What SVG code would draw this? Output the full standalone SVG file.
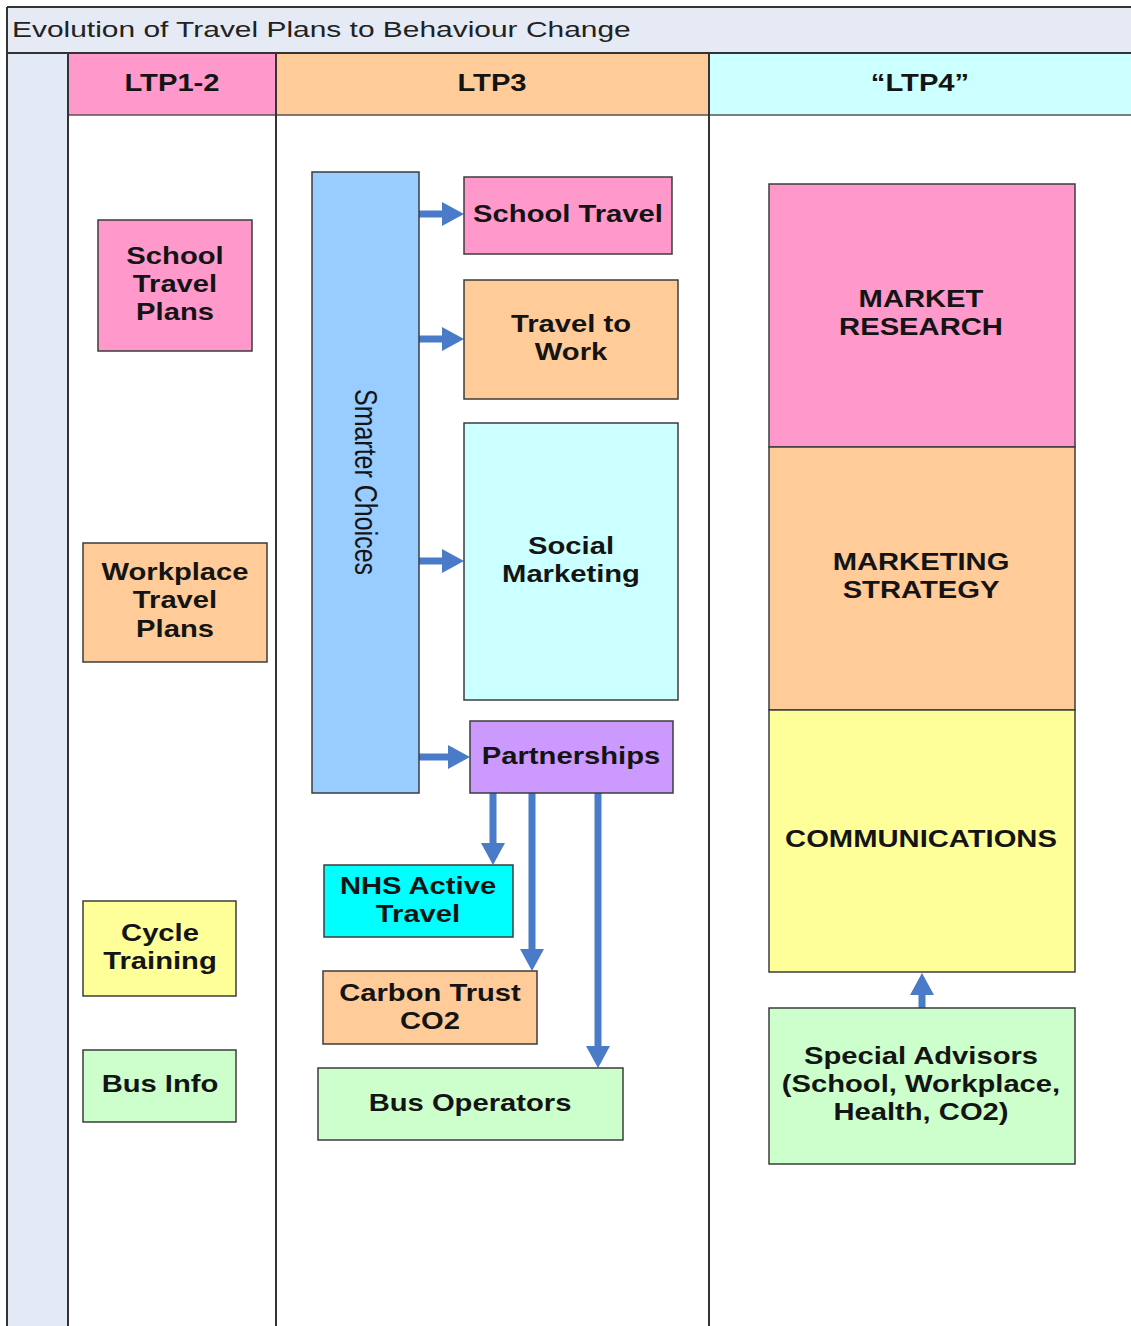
<svg xmlns="http://www.w3.org/2000/svg" width="1131" height="1326" viewBox="0 0 1131 1326">
<style>
.box{stroke:#3c3c3c;stroke-width:1.5}
.t{font-family:"Liberation Sans",Arial,sans-serif;font-weight:bold;font-size:23px;fill:#141414;text-anchor:middle}
.frame{stroke:#333;stroke-width:2;fill:none}
.pink{fill:#ff99cc}.orange{fill:#ffcc99}.lcyan{fill:#ccffff}.yellow{fill:#ffff99}.green{fill:#ccffcc}.blue{fill:#99ccff}.purple{fill:#cc99ff}.cyan{fill:#00ffff}
.arr{stroke:#4a7bc9;stroke-width:7;fill:none;stroke-linecap:round;marker-end:url(#head)}
</style>
<defs>
<marker id="head" markerUnits="userSpaceOnUse" viewBox="0 0 22 24" markerWidth="22" markerHeight="24" refX="1" refY="12" orient="auto">
<path d="M0,0 L22,12 L0,24 z" fill="#4a7bc9"/>
</marker>
</defs>
<rect width="1131" height="1326" fill="#ffffff"/>
<g id="frame">
<rect x="7" y="7" width="1130" height="46" fill="#e5eaf5"/>
<rect x="7" y="53" width="61" height="1280" fill="#e3e9f5"/>
<rect x="68" y="53" width="208" height="62" class="pink"/>
<rect x="276" y="53" width="433" height="62" class="orange"/>
<rect x="709" y="53" width="430" height="62" class="lcyan"/>
<line x1="7" y1="7" x2="1131" y2="7" class="frame"/>
<line x1="7" y1="53" x2="1131" y2="53" class="frame"/>
<line x1="68" y1="115" x2="1131" y2="115" stroke="#555" stroke-width="1.5"/>
<line x1="7" y1="7" x2="7" y2="1326" class="frame"/>
<line x1="68" y1="53" x2="68" y2="1326" class="frame"/>
<line x1="276" y1="53" x2="276" y2="1326" class="frame"/>
<line x1="709" y1="53" x2="709" y2="1326" class="frame"/>
<text transform="matrix(1.33,0,0,1,12,37)" x="0" y="0" style="font-family:'Liberation Sans',Arial,sans-serif;font-size:22.5px;fill:#222">Evolution of Travel Plans to Behaviour Change</text>
<text class="t" transform="matrix(1.27,0,0,1,172,91)">LTP1-2</text>
<text class="t" transform="matrix(1.27,0,0,1,492,91)">LTP3</text>
<text class="t" transform="matrix(1.27,0,0,1,920,91)">“LTP4”</text>
</g>
<g id="connectors">
<line class="arr" x1="418" y1="214" x2="443" y2="214"/>
<line class="arr" x1="418" y1="339" x2="443" y2="339"/>
<line class="arr" x1="418" y1="561" x2="443" y2="561"/>
<line class="arr" x1="418" y1="757" x2="449" y2="757"/>
<line class="arr" x1="493" y1="794" x2="493" y2="844"/>
<line class="arr" x1="532" y1="794" x2="532" y2="950"/>
<line class="arr" x1="598" y1="794" x2="598" y2="1047"/>
<line class="arr" x1="922" y1="1010" x2="922" y2="994"/>
</g>
<g id="school-travel-plans">
<rect x="98" y="220" width="154" height="131" class="box pink"/>
<text class="t" transform="matrix(1.27,0,0,1,175,0)"><tspan x="0" y="264">School</tspan><tspan x="0" y="292">Travel</tspan><tspan x="0" y="320">Plans</tspan></text>
</g>
<g id="workplace-travel-plans">
<rect x="83" y="543" width="184" height="119" class="box orange"/>
<text class="t" transform="matrix(1.27,0,0,1,175,0)"><tspan x="0" y="580">Workplace</tspan><tspan x="0" y="608">Travel</tspan><tspan x="0" y="637">Plans</tspan></text>
</g>
<g id="cycle-training">
<rect x="83" y="901" width="153" height="95" class="box yellow"/>
<text class="t" transform="matrix(1.27,0,0,1,160,0)"><tspan x="0" y="941">Cycle</tspan><tspan x="0" y="969">Training</tspan></text>
</g>
<g id="bus-info">
<rect x="83" y="1050" width="153" height="72" class="box green"/>
<text class="t" transform="matrix(1.27,0,0,1,160,1092)">Bus Info</text>
</g>
<g id="smarter-choices">
<rect x="312" y="172" width="107" height="621" class="box blue"/>
<text transform="translate(366,482) scale(1.27,1) rotate(90)" x="0" y="9" style="font-family:'Liberation Sans',Arial,sans-serif;font-size:25px;fill:#141414;text-anchor:middle">Smarter Choices</text>
</g>
<g id="school-travel">
<rect x="464" y="177" width="208" height="77" class="box pink"/>
<text class="t" transform="matrix(1.27,0,0,1,568,222)">School Travel</text>
</g>
<g id="travel-to-work">
<rect x="464" y="280" width="214" height="119" class="box orange"/>
<text class="t" transform="matrix(1.27,0,0,1,571,0)"><tspan x="0" y="332">Travel to</tspan><tspan x="0" y="360">Work</tspan></text>
</g>
<g id="social-marketing">
<rect x="464" y="423" width="214" height="277" class="box lcyan"/>
<text class="t" transform="matrix(1.27,0,0,1,571,0)"><tspan x="0" y="554">Social</tspan><tspan x="0" y="582">Marketing</tspan></text>
</g>
<g id="partnerships">
<rect x="470" y="721" width="203" height="72" class="box purple"/>
<text class="t" transform="matrix(1.27,0,0,1,571,764)">Partnerships</text>
</g>
<g id="nhs-active-travel">
<rect x="324" y="865" width="189" height="72" class="box cyan"/>
<text class="t" transform="matrix(1.27,0,0,1,418,0)"><tspan x="0" y="894">NHS Active</tspan><tspan x="0" y="922">Travel</tspan></text>
</g>
<g id="carbon-trust">
<rect x="323" y="971" width="214" height="73" class="box orange"/>
<text class="t" transform="matrix(1.27,0,0,1,430,0)"><tspan x="0" y="1001">Carbon Trust</tspan><tspan x="0" y="1029">CO2</tspan></text>
</g>
<g id="bus-operators">
<rect x="318" y="1068" width="305" height="72" class="box green"/>
<text class="t" transform="matrix(1.27,0,0,1,470,1111)">Bus Operators</text>
</g>
<g id="market-research">
<rect x="769" y="184" width="306" height="263" class="box pink"/>
<text class="t" transform="matrix(1.27,0,0,1,921,0)"><tspan x="0" y="307">MARKET</tspan><tspan x="0" y="335">RESEARCH</tspan></text>
</g>
<g id="marketing-strategy">
<rect x="769" y="447" width="306" height="263" class="box orange"/>
<text class="t" transform="matrix(1.27,0,0,1,921,0)"><tspan x="0" y="570">MARKETING</tspan><tspan x="0" y="598">STRATEGY</tspan></text>
</g>
<g id="communications">
<rect x="769" y="710" width="306" height="262" class="box yellow"/>
<text class="t" transform="matrix(1.27,0,0,1,921,847)">COMMUNICATIONS</text>
</g>
<g id="special-advisors">
<rect x="769" y="1008" width="306" height="156" class="box green"/>
<text class="t" transform="matrix(1.27,0,0,1,921,0)"><tspan x="0" y="1064">Special Advisors</tspan><tspan x="0" y="1092">(School, Workplace,</tspan><tspan x="0" y="1120">Health, CO2)</tspan></text>
</g>
</svg>
